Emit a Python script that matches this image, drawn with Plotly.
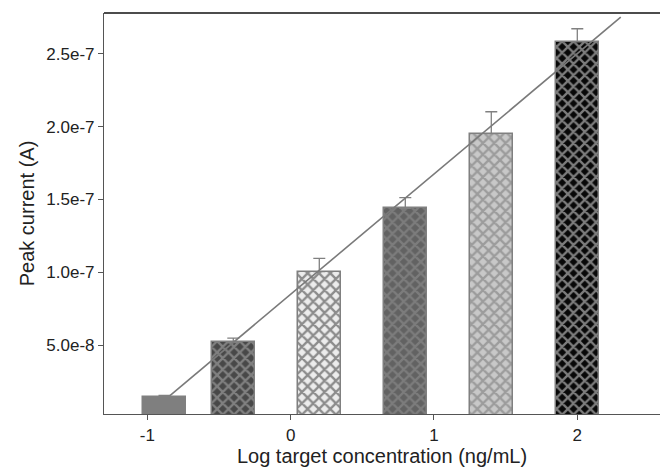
import plotly.graph_objects as go

# Data
bar_x = [-0.88, -0.40, 0.20, 0.80, 1.40, 2.00]
bar_y = [1.44e-8, 5.18e-8, 1.005e-7, 1.438e-7, 1.952e-7, 2.582e-7]
bar_err = [0.1e-8, 0.3e-8, 0.9e-8, 0.75e-8, 1.5e-8, 0.9e-8]
fit_x = [-0.842, 2.303]
fit_y = [1.53e-8, 2.751e-7]
x_ticks = [-1, 0, 1, 2]
x_ticktext = ["-1", "0", "1", "2"]
y_ticks = [5e-8, 1e-7, 1.5e-7, 2e-7, 2.5e-7]
y_ticktext = ["5.0e-8", "1.0e-7", "1.5e-7", "2.0e-7", "2.5e-7"]

# Styles per bar: (pattern shape, diamond colour, line colour)
styles = [
    ("", "#7f7f7f", "#7f7f7f"),
    ("x", "#484848", "#808080"),
    ("x", "#ececec", "#8c8c8c"),
    ("x", "#626262", "#7c7c7c"),
    ("x", "#c8c8c8", "#9c9c9c"),
    ("x", "#080808", "#7c7c7c"),
]

fig = go.Figure()
for i in range(len(bar_x)):
    shape, bg, fg = styles[i]
    if shape:
        marker = dict(
            color=bg,
            line=dict(color="#808080", width=1.5),
            pattern=dict(shape="x", bgcolor=bg, fgcolor=fg, size=8,
                         solidity=0.5, fillmode="replace"),
        )
    else:
        marker = dict(color=bg, line=dict(color="#808080", width=1.5))
    fig.add_trace(go.Bar(
        x=[bar_x[i]], y=[bar_y[i]], width=0.30,
        marker=marker,
        error_y=dict(type="data", symmetric=False, array=[bar_err[i]],
                     arrayminus=[0], color="#808080", thickness=1.3, width=6),
        showlegend=False,
    ))

fig.add_trace(go.Scatter(
    x=fit_x, y=fit_y, mode="lines",
    line=dict(color="#7a7a7a", width=1.6), showlegend=False,
))

fig.update_layout(
    width=660, height=473,
    margin=dict(l=104, r=0, t=13, b=59),
    plot_bgcolor="white", paper_bgcolor="white",
    font=dict(family="Liberation Sans, Arial, sans-serif", color="#222"),
    bargap=0,
    shapes=[dict(type="line", xref="paper", yref="paper", x0=0, x1=1, y0=1, y1=1,
                 line=dict(color="#111", width=1.5))],
)
fig.update_xaxes(
    range=[-1.302, 2.577], tickvals=x_ticks, ticktext=x_ticktext,
    ticks="outside", ticklen=5, automargin=False,
    tickcolor="#555", showline=True, linecolor="#555", linewidth=1.2,
    showgrid=False, zeroline=False, tickfont=dict(size=17),
    title=dict(text="Log target concentration (ng/mL)", font=dict(size=20), standoff=4),
)
fig.update_yaxes(
    range=[2.7e-9, 2.78e-7], tickvals=y_ticks, ticktext=y_ticktext,
    ticks="outside", ticklen=5, tickcolor="#555", showline=True, automargin=False,
    linecolor="#555", linewidth=1.2, showgrid=False, zeroline=False,
    tickfont=dict(size=17),
    title=dict(text="Peak current (A)", font=dict(size=20), standoff=6),
)

fig.write_html("out.html", config={"displayModeBar": False},
               post_script="document.body.style.margin='0';document.body.style.overflow='hidden';")
